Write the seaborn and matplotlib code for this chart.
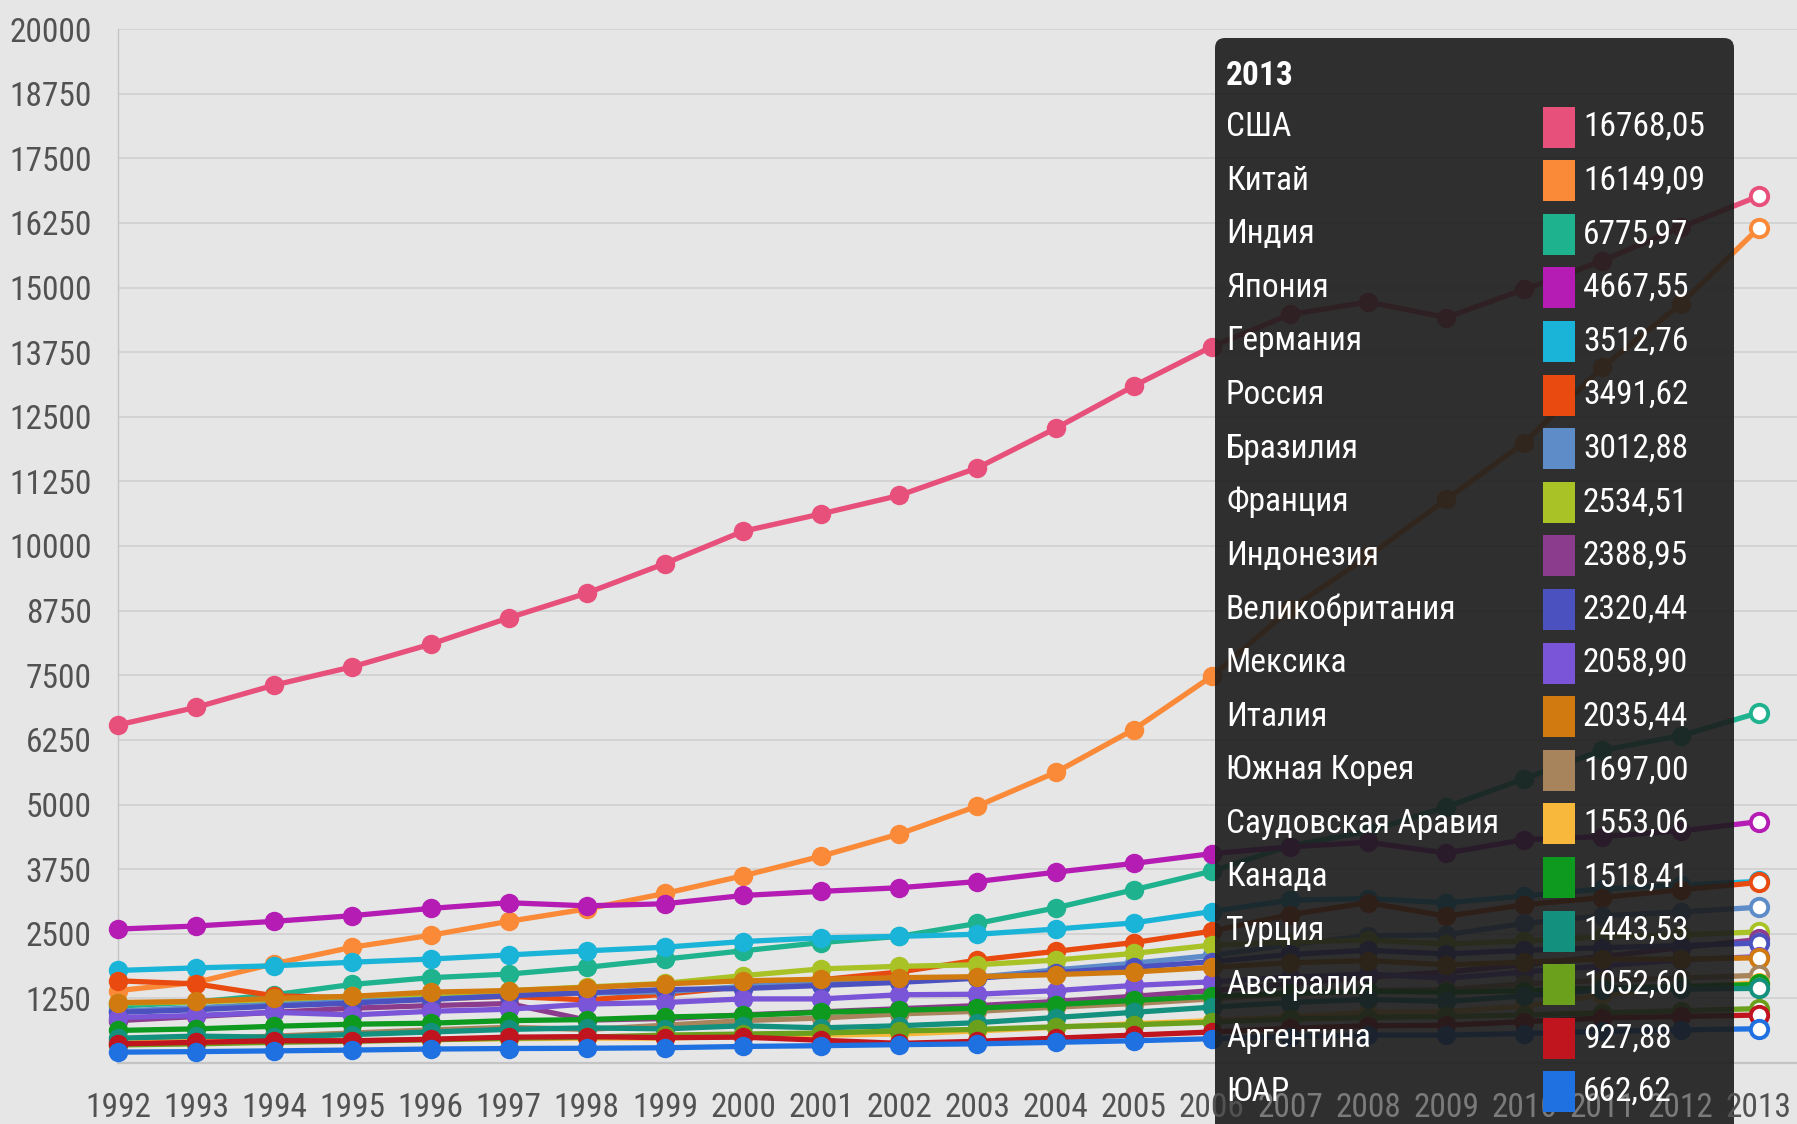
import numpy as np
import pandas as pd
import matplotlib
matplotlib.use("Agg")
import matplotlib.pyplot as plt
import seaborn as sns
from matplotlib import font_manager
from matplotlib.patches import FancyBboxPatch, Rectangle
from matplotlib.transforms import IdentityTransform

# --- data: GDP (PPP), 1992-2013 ---
years = list(range(1992, 2014))

countries = ["США", "Китай", "Индия", "Япония", "Германия", "Россия", "Бразилия",
             "Франция", "Индонезия", "Великобритания", "Мексика", "Италия",
             "Южная Корея", "Саудовская Аравия", "Канада", "Турция", "Австралия",
             "Аргентина", "ЮАР"]

colors = ["#e8507c", "#fa8a38", "#1fb28e", "#b41cb4", "#1ab4d8", "#e84a10", "#5e8cc8",
          "#a9c226", "#8c3c8c", "#4b52bf", "#7a55d8", "#d07a10", "#a8845c", "#f7b83c",
          "#0e9a1e", "#13907e", "#6aa01c", "#c0141e", "#1f70e0"]

usa = [6539, 6879, 7309, 7664, 8100, 8609, 9089, 9661, 10285, 10622, 10978,
       11511, 12275, 13094, 13856, 14478, 14719, 14419, 14964, 15518, 16163, 16768.05]
china = [1400, 1560, 1920, 2240, 2470, 2740, 2980, 3280, 3620, 4000, 4430,
         4970, 5620, 6450, 7480, 8780, 9800, 10900, 12000, 13460, 14680, 16149.09]
india = [1100, 1180, 1320, 1520, 1650, 1720, 1850, 2010, 2170, 2330, 2450,
         2700, 3000, 3350, 3710, 4200, 4480, 4950, 5500, 6050, 6330, 6775.97]
japan = [2590, 2650, 2740, 2850, 2990, 3100, 3040, 3080, 3240, 3320, 3390,
         3510, 3690, 3860, 4050, 4180, 4270, 4060, 4320, 4380, 4490, 4667.55]
germany = [1790, 1840, 1880, 1950, 2010, 2090, 2170, 2240, 2350, 2420, 2450,
           2490, 2590, 2710, 2930, 3150, 3180, 3100, 3230, 3370, 3440, 3512.76]
russia = [1590, 1530, 1300, 1260, 1240, 1290, 1220, 1330, 1480, 1610, 1760,
          1990, 2160, 2330, 2550, 2870, 3100, 2840, 3060, 3200, 3350, 3491.62]
brazil = [1000, 1070, 1140, 1210, 1260, 1330, 1350, 1380, 1480, 1540, 1610,
          1660, 1800, 1930, 2080, 2290, 2460, 2480, 2700, 2850, 2920, 3012.88]
france = [1160, 1180, 1230, 1290, 1340, 1400, 1470, 1540, 1690, 1820, 1870,
          1900, 1990, 2120, 2280, 2340, 2380, 2300, 2360, 2440, 2480, 2534.51]
indonesia = [820, 900, 980, 1060, 1110, 1150, 830, 860, 930, 990, 1050,
             1110, 1190, 1290, 1400, 1530, 1660, 1760, 1900, 2060, 2230, 2388.95]
uk = [980, 1030, 1100, 1160, 1230, 1300, 1360, 1420, 1440, 1500, 1560,
      1640, 1750, 1850, 1960, 2100, 2180, 2110, 2180, 2230, 2270, 2320.44]
mexico = [880, 920, 980, 930, 1000, 1040, 1140, 1170, 1240, 1240, 1320,
          1330, 1400, 1500, 1570, 1660, 1720, 1640, 1760, 1880, 1990, 2058.90]
italy = [1170, 1190, 1250, 1290, 1370, 1400, 1460, 1530, 1590, 1620, 1650,
         1670, 1710, 1760, 1850, 1940, 1980, 1900, 1950, 2010, 2010, 2035.44]
korea = [420, 460, 520, 580, 640, 690, 650, 730, 820, 870, 950,
         1000, 1080, 1150, 1240, 1340, 1400, 1420, 1530, 1600, 1640, 1697.00]
saudi = [400, 410, 420, 430, 450, 470, 480, 480, 520, 540, 560,
         620, 690, 760, 820, 890, 980, 990, 1100, 1320, 1470, 1553.06]
canada = [630, 660, 710, 750, 770, 820, 840, 890, 920, 980, 1020,
          1060, 1130, 1210, 1290, 1350, 1390, 1370, 1400, 1450, 1480, 1518.41]
turkey = [480, 520, 500, 550, 600, 650, 680, 660, 720, 680, 720,
          780, 880, 980, 1080, 1170, 1230, 1190, 1300, 1420, 1430, 1443.53]
australia = [350, 370, 400, 420, 450, 480, 500, 540, 560, 580, 620,
             650, 700, 740, 790, 850, 880, 900, 930, 970, 1010, 1052.60]
argentina = [370, 400, 430, 430, 460, 500, 510, 490, 500, 440, 380,
             420, 480, 540, 600, 670, 720, 730, 800, 870, 900, 927.88]
south_africa = [210, 220, 235, 250, 270, 280, 285, 295, 320, 335, 355,
                370, 400, 430, 470, 510, 540, 540, 570, 610, 640, 662.62]

series = [usa, china, india, japan, germany, russia, brazil, france, indonesia, uk,
          mexico, italy, korea, saudi, canada, turkey, australia, argentina, south_africa]

tooltip_year = "2013"
tooltip_values = ["16768,05", "16149,09", "6775,97", "4667,55", "3512,76", "3491,62",
                  "3012,88", "2534,51", "2388,95", "2320,44", "2058,90", "2035,44",
                  "1697,00", "1553,06", "1518,41", "1443,53", "1052,60", "927,88", "662,62"]

y_ticks = list(range(1250, 20001, 1250))

# --- font: a narrow sans if there is one ---
installed = {f.name for f in font_manager.fontManager.ttflist}
font_name, scale = "Liberation Sans", 0.84
for cand in ["Liberation Sans Narrow", "Roboto Condensed", "Open Sans Condensed"]:
    if cand in installed:
        font_name, scale = cand, 1.0
        break

sns.set_theme(style="white")
plt.rcParams["font.family"] = [font_name, "DejaVu Sans"]

W, H = 1797, 1124
BG = "#e6e6e6"
GRID = "#d2d2d2"

df = pd.DataFrame({
    "year": years * len(countries),
    "country": [c for c in countries for _ in years],
    "gdp": [v for s in series for v in s],
})
palette = dict(zip(countries, colors))

fig = plt.figure(figsize=(W / 100, H / 100), dpi=100)
fig.patch.set_facecolor(BG)
ax = fig.add_axes([118 / W, 1 - 1063 / H, (W - 118) / W, (1063 - 29) / H])
ax.set_facecolor(BG)

sns.lineplot(data=df, x="year", y="gdp", hue="country", hue_order=countries,
             palette=palette, marker="o", markersize=14, markeredgewidth=0,
             linewidth=3.8, legend=False, ax=ax, clip_on=False, zorder=3)

# hovered point (last year) drawn hollow
for c, s in zip(colors, series):
    ax.plot([years[-1]], [s[-1]], marker="o", ms=12.5, mfc="white", mec=c, mew=2.8,
            ls="none", clip_on=False, zorder=4)

ax.set_xlim(1992, 2013.49)
ax.set_ylim(0, 20000)
ax.set_xticks(years)
ax.set_xticklabels([str(y) for y in years])
ax.set_yticks(y_ticks)
ax.set_yticklabels([str(t) for t in y_ticks])
ax.set_xlabel("")
ax.set_ylabel("")

ax.yaxis.grid(True, color=GRID, linewidth=1.3)
ax.xaxis.grid(False)
for side in ["top", "right"]:
    ax.spines[side].set_visible(False)
ax.spines["left"].set_color("#c4c4c4")
ax.spines["left"].set_linewidth(1.0)
ax.spines["bottom"].set_color("#c4c4c4")
ax.spines["bottom"].set_linewidth(1.6)

ax.tick_params(axis="y", length=9, width=1.3, color=GRID, pad=10,
               labelsize=24 * scale, labelcolor="#525252")
ax.tick_params(axis="x", length=9, width=1.0, color="#c4c4c4", pad=12,
               labelsize=24 * scale, labelcolor="#525252")

# --- tooltip box ---
tip_left, tip_right, tip_top = 1215, 1734, 38
box = FancyBboxPatch((tip_left, -30), tip_right - tip_left, H - tip_top + 30,
                     boxstyle="round,pad=0,rounding_size=10",
                     transform=IdentityTransform(), facecolor="#1b1b1b",
                     edgecolor="none", alpha=0.9, clip_on=False, zorder=5)
ax.add_artist(box)
ax.xaxis.set_zorder(6)

# year labels under the tooltip look dimmed
for lbl, yr in zip(ax.get_xticklabels(), years):
    if 2007 <= yr <= 2012:
        lbl.set_color("#7a7a7a")

fig.text(1226, H - 76, tooltip_year, transform=IdentityTransform(), color="white",
         fontsize=24 * scale, fontweight="bold", va="center", ha="left")
row0, row_step = 127, 53.6
for i, (name, val, c) in enumerate(zip(countries, tooltip_values, colors)):
    yc = H - (row0 + i * row_step)
    fig.text(1226, yc, name, transform=IdentityTransform(), color="white",
             fontsize=24 * scale, va="center", ha="left")
    fig.add_artist(Rectangle((1543, yc - 20.5), 32, 41, transform=IdentityTransform(),
                             facecolor=c, edgecolor="none", zorder=3))
    fig.text(1583, yc, val, transform=IdentityTransform(), color="white",
             fontsize=24 * scale, va="center", ha="left")

fig.savefig("out.png", dpi=100, facecolor=BG)
